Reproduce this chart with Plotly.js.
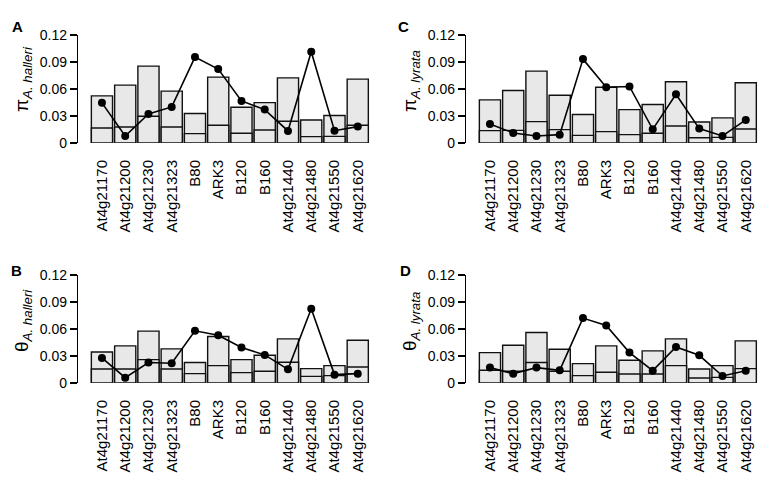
<!DOCTYPE html>
<html><head><meta charset="utf-8">
<script src="https://cdn.plot.ly/plotly-3.0.1.min.js"></script>
<style>html,body{margin:0;padding:0;background:#fff}#chart{width:770px;height:481px}</style>
</head><body><div id="chart"></div>
<script>
const loci = ["At4g21170","At4g21200","At4g21230","At4g21323","B80","ARK3","B120","B160","At4g21440","At4g21480","At4g21550","At4g21620"];

// Panel A: pi, A. halleri
const piHalleriTotal = [0.0524,0.0643,0.0854,0.0576,0.0327,0.0732,0.0397,0.0449,0.0724,0.0256,0.0305,0.0710];
const piHalleriInner = [0.0167,0.0178,0.0297,0.0178,0.0104,0.0197,0.0108,0.0145,0.0241,0.0071,0.0074,0.0197];
const piHalleriLine  = [0.0446,0.0078,0.0323,0.0401,0.0955,0.0821,0.0468,0.0371,0.0134,0.1014,0.0137,0.0182];

// Panel C: pi, A. lyrata
const piLyrataTotal = [0.0479,0.0583,0.0799,0.0531,0.0316,0.0620,0.0371,0.0427,0.0680,0.0234,0.0279,0.0669];
const piLyrataInner = [0.0137,0.0140,0.0238,0.0149,0.0085,0.0126,0.0093,0.0108,0.0189,0.0059,0.0063,0.0156];
const piLyrataLine  = [0.0212,0.0111,0.0078,0.0093,0.0932,0.0620,0.0628,0.0152,0.0542,0.0160,0.0078,0.0256];

// Panel B: theta, A. halleri
const thetaHalleriTotal = [0.0345,0.0412,0.0576,0.0379,0.0227,0.0516,0.0260,0.0308,0.0490,0.0160,0.0193,0.0475];
const thetaHalleriInner = [0.0156,0.0156,0.0260,0.0156,0.0104,0.0193,0.0115,0.0130,0.0230,0.0074,0.0082,0.0178];
const thetaHalleriLine  = [0.0279,0.0059,0.0227,0.0219,0.0580,0.0531,0.0394,0.0312,0.0152,0.0825,0.0093,0.0104];

// Panel D: theta, A. lyrata
const thetaLyrataTotal = [0.0338,0.0420,0.0561,0.0375,0.0215,0.0412,0.0253,0.0357,0.0490,0.0156,0.0193,0.0468];
const thetaLyrataInner = [0.0141,0.0130,0.0227,0.0130,0.0082,0.0119,0.0100,0.0100,0.0193,0.0056,0.0063,0.0160];
const thetaLyrataLine  = [0.0171,0.0104,0.0171,0.0141,0.0721,0.0639,0.0338,0.0137,0.0401,0.0308,0.0078,0.0137];

const yTickVals = [0, 0.03, 0.06, 0.09, 0.12];
const yTickText = ["0", "0.03", "0.06", "0.09", "0.12"];

const FONT = '"Liberation Sans", Arial, Helvetica, sans-serif';
const barFill = '#e8e8e8';
const edge = '#111';

function panel(xa, ya, total, inner, line) {
  const barStyle = {color: barFill, line: {color: edge, width: 1.4}};
  return [
    {type: 'bar', x: loci, y: total, xaxis: xa, yaxis: ya, marker: barStyle, cliponaxis: false, hoverinfo: 'skip'},
    {type: 'bar', x: loci, y: inner, xaxis: xa, yaxis: ya, marker: barStyle, cliponaxis: false, hoverinfo: 'skip'},
    {type: 'scatter', mode: 'lines+markers', x: loci, y: line, xaxis: xa, yaxis: ya, cliponaxis: false,
     line: {color: '#000', width: 1.6}, marker: {color: '#000', size: 8}}
  ];
}

const data = [].concat(
  panel('x', 'y', piHalleriTotal, piHalleriInner, piHalleriLine),
  panel('x2', 'y2', piLyrataTotal, piLyrataInner, piLyrataLine),
  panel('x3', 'y3', thetaHalleriTotal, thetaHalleriInner, thetaHalleriLine),
  panel('x4', 'y4', thetaLyrataTotal, thetaLyrataInner, thetaLyrataLine)
);

const W = 770, H = 481;
const px = v => v / W, py = v => 1 - v / H;

function xAxis(left, anchor) {
  return {
    domain: [px(left), px(left + 303)], anchor: anchor, type: 'category',
    categoryorder: 'array', categoryarray: loci,
    range: [-1.03, 12.0], showline: false, showgrid: false, zeroline: false,
    ticks: 'outside', ticklen: 10, tickcolor: 'rgba(0,0,0,0)', tickangle: -90,
    tickfont: {family: FONT, size: 15, color: '#000'}, fixedrange: true
  };
}
function yAxis(top, bottom, anchor) {
  return {
    domain: [py(bottom), py(top)], anchor: anchor, range: [0, 0.12],
    showline: true, linecolor: '#000', linewidth: 1.2, showgrid: false, zeroline: false,
    ticks: 'outside', ticklen: 7, tickwidth: 1.2, tickcolor: '#000',
    tickvals: yTickVals, ticktext: yTickText,
    tickfont: {family: FONT, size: 14, color: '#000'}, fixedrange: true
  };
}

const annFont = {family: FONT, size: 19, color: '#000'};
const letterFont = {family: FONT, size: 15, color: '#000'};
function title(text, x, y) {
  return {text: text, xref: 'paper', yref: 'paper', x: px(x), y: py(y), xanchor: 'center', yanchor: 'middle',
          textangle: -90, showarrow: false, font: annFont};
}
function letter(text, x, y) {
  return {text: '<b>' + text + '</b>', xref: 'paper', yref: 'paper', x: px(x), y: py(y), xanchor: 'center', yanchor: 'middle',
          showarrow: false, font: letterFont};
}

const layout = {
  width: W, height: H, margin: {l: 0, r: 0, t: 0, b: 0},
  paper_bgcolor: '#fff', plot_bgcolor: 'rgba(0,0,0,0)',
  showlegend: false, barmode: 'overlay', bargap: 0.09,
  font: {family: FONT, color: '#000'},
  xaxis: xAxis(78, 'y'), yaxis: yAxis(35, 143, 'x'),
  xaxis2: xAxis(466, 'y2'), yaxis2: yAxis(35, 143, 'x2'),
  xaxis3: xAxis(78, 'y3'), yaxis3: yAxis(275, 383, 'x3'),
  xaxis4: xAxis(466, 'y4'), yaxis4: yAxis(275, 383, 'x4'),
  annotations: [
    title('π<sub><i>A. halleri</i></sub>', 23, 79),
    title('π<sub><i>A. lyrata</i></sub>', 411, 81),
    title('θ<sub><i>A. halleri</i></sub>', 23, 321),
    title('θ<sub><i>A. lyrata</i></sub>', 411, 322),
    letter('A', 17, 26), letter('C', 404, 26),
    letter('B', 16, 270), letter('D', 406, 270)
  ]
};

Plotly.newPlot('chart', data, layout, {displayModeBar: false, staticPlot: true});
</script>
</body></html>
